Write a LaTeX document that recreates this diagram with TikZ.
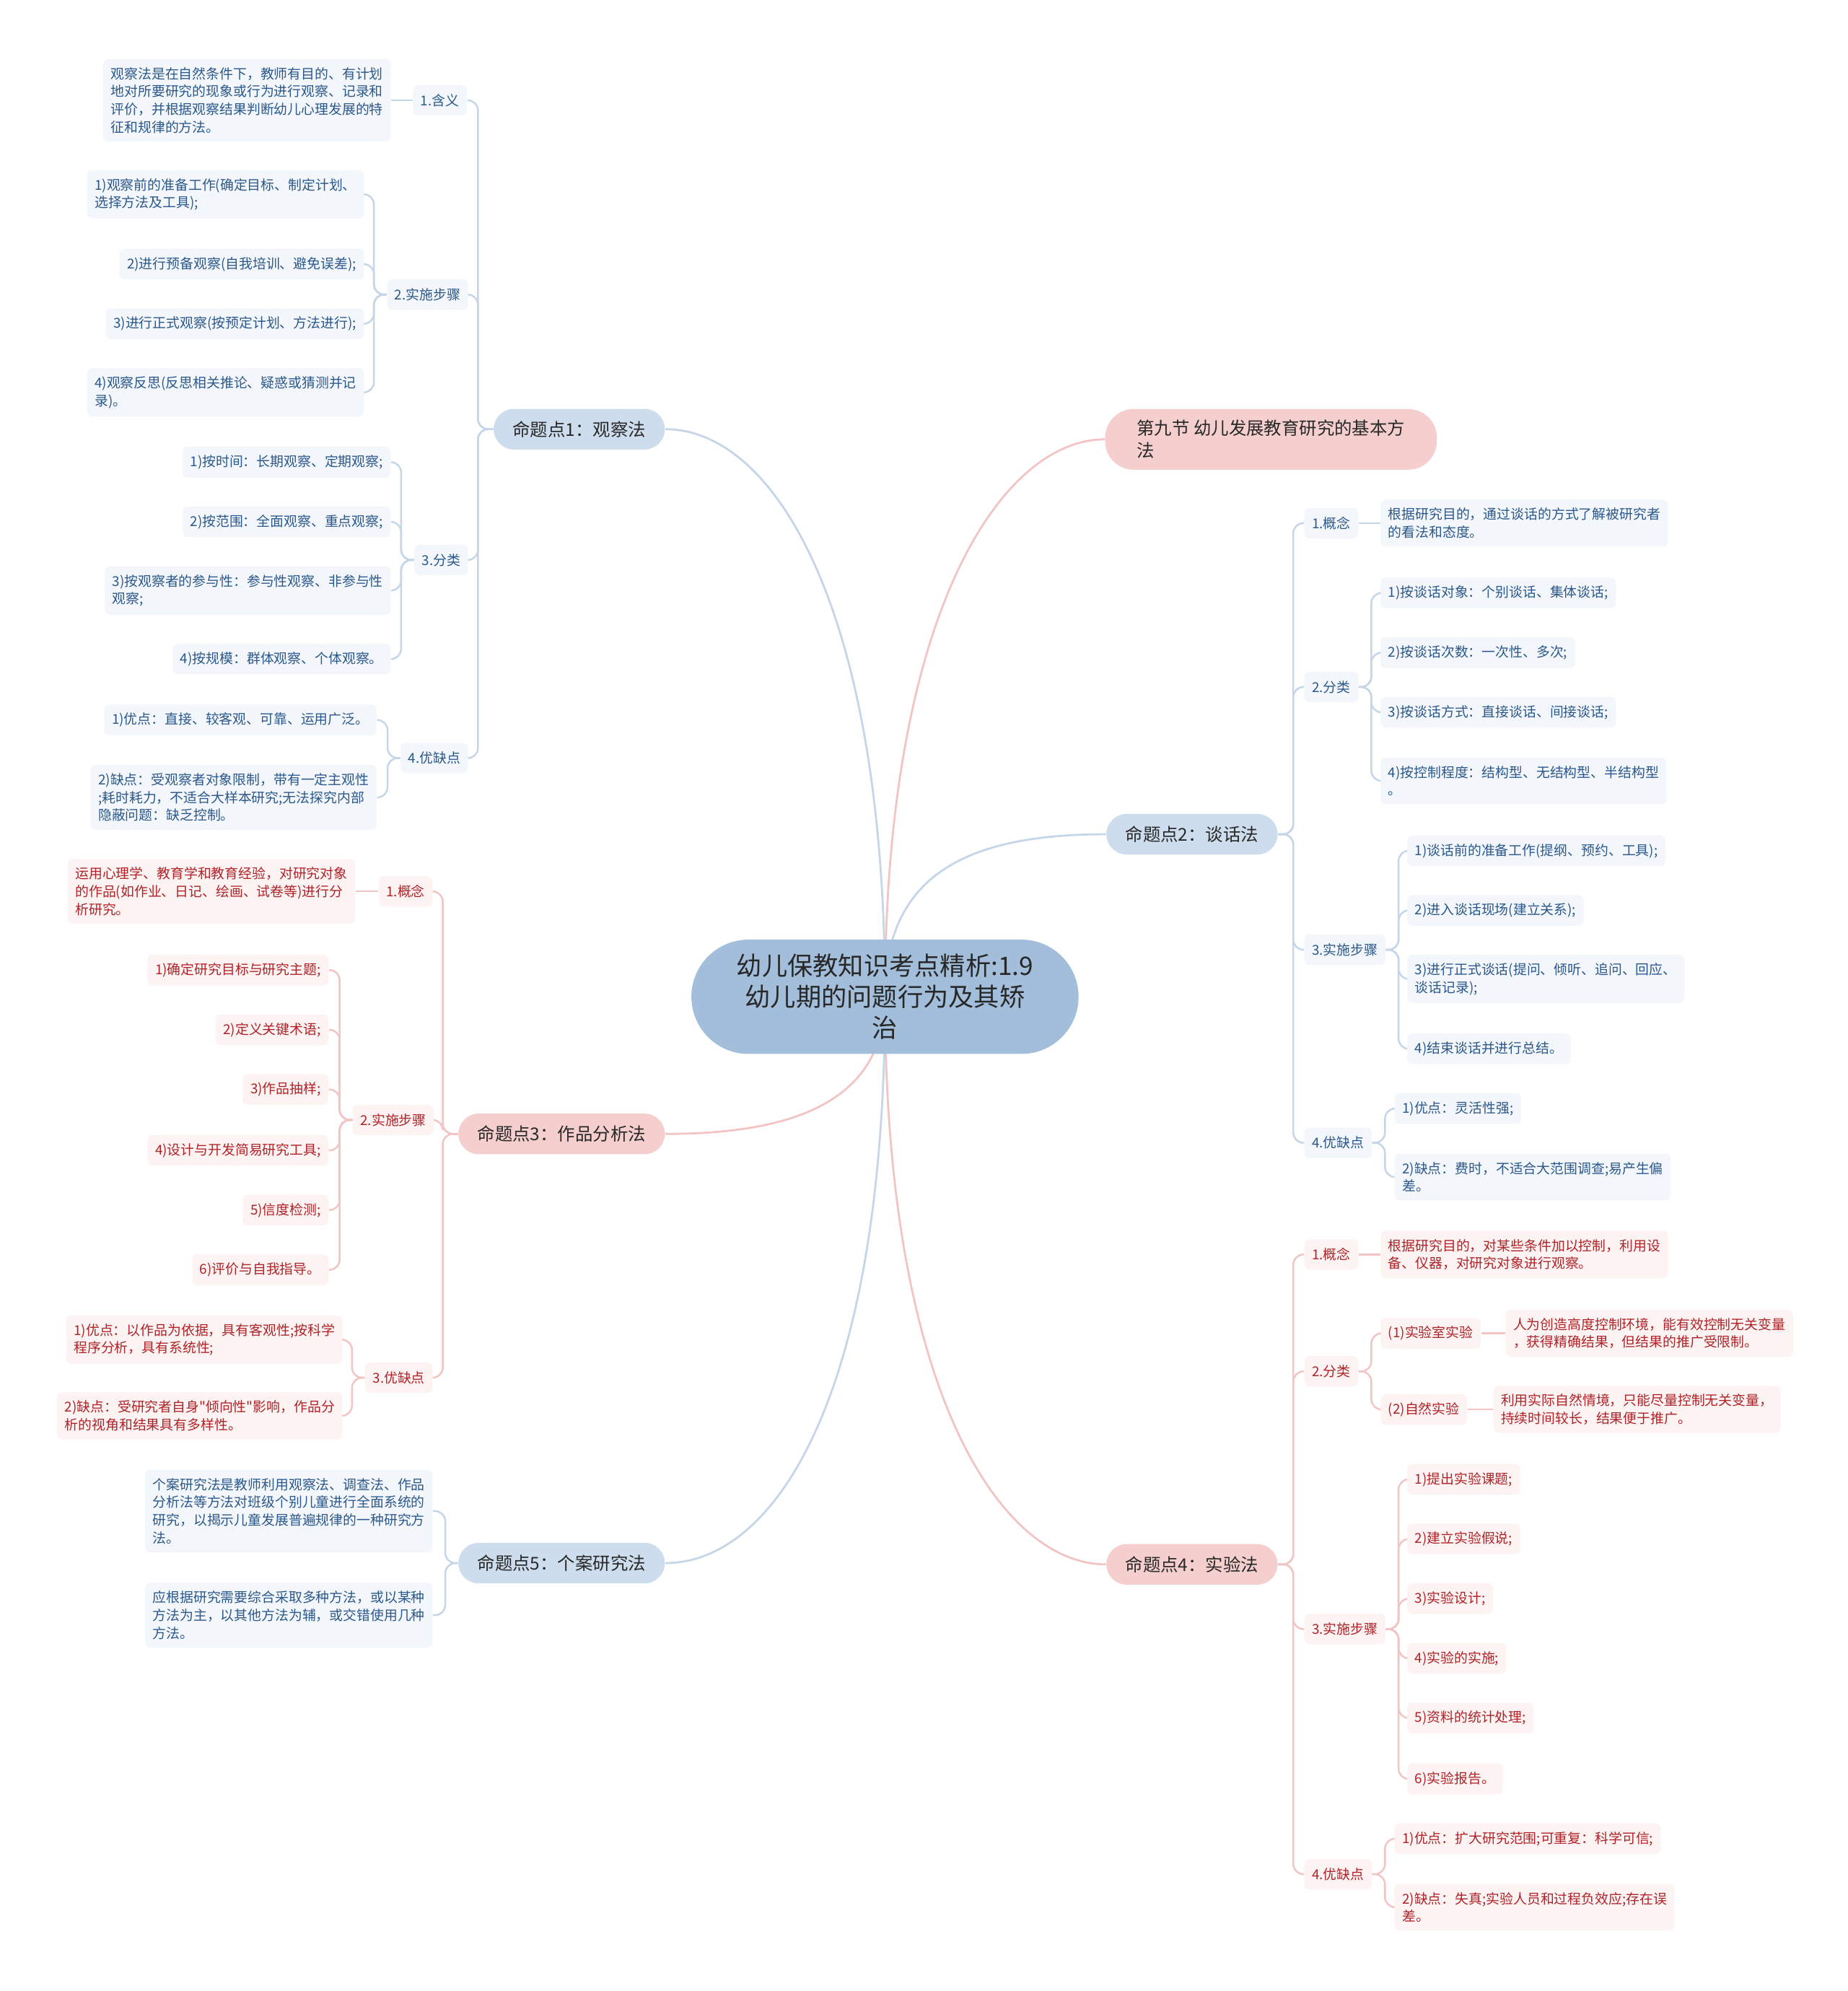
\documentclass[tikz,border=0pt]{standalone}
\usepackage{fontspec}
\setmainfont{Noto Sans CJK SC}[Ligatures=TeXOff]
\usepackage{xcolor}
\usetikzlibrary{positioning,backgrounds}

\definecolor{rootfill}{RGB}{162,190,219}
\definecolor{darktxt}{RGB}{40,40,40}
\definecolor{topicblue}{RGB}{205,221,237}
\definecolor{topicred}{RGB}{245,206,206}
\definecolor{txtblue}{RGB}{43,88,140}
\definecolor{txtred}{RGB}{175,35,40}
\definecolor{fillblue}{RGB}{243,247,251}
\definecolor{fillred}{RGB}{253,243,243}
\definecolor{lineblue}{RGB}{197,214,232}
\definecolor{linered}{RGB}{242,196,196}

\newcommand\leaffont{\fontsize{6.1pt}{7.97pt}\selectfont}
\newcommand\topicfont{\fontsize{7.9pt}{10.2pt}\selectfont}
\newcommand\rootfont{\fontsize{11.4pt}{13.9pt}\selectfont}

\begin{document}
\begin{tikzpicture}[x=0.02cm, y=-0.02cm,
  rootbox/.style={fill=rootfill, text=darktxt, font=\rootfont, align=center, rounded corners=0.9cm, minimum width=6.1cm, minimum height=1.8cm},
  topicb/.style={fill=topicblue, text=darktxt, font=\topicfont, rounded corners=0.32cm, minimum height=0.64cm, inner xsep=0.3cm},
  topicr/.style={topicb, fill=topicred},
  subb/.style={fill=fillblue, text=txtblue, font=\leaffont, rounded corners=0.08cm, minimum height=0.48cm, inner xsep=0.12cm},
  subr/.style={subb, fill=fillred, text=txtred},
  leafb/.style={subb, align=left, inner ysep=0.13cm},
  leafr/.style={subr, align=left, inner ysep=0.13cm},
  lineb/.style={draw=lineblue, line width=0.8pt, rounded corners=0.16cm},
  liner/.style={lineb, draw=linered}]

\useasboundingbox (0,0) rectangle (1455,1568);

\node[rootbox] (root) at (697,785) {幼儿保教知识考点精析:1.9\\幼儿期的问题行为及其矫\\治};

\node[topicr, align=left, inner xsep=0.5cm, inner ysep=0.17cm, rounded corners=0.45cm, anchor=west] (t9) at (870,346) {第九节 幼儿发展教育研究的基本方\\法};
\node[topicb, anchor=east] (t1) at (524,338) {命题点1：观察法};
\node[topicb, anchor=west] (t2) at (871,657) {命题点2：谈话法};
\node[topicr, anchor=east] (t3) at (524,893) {命题点3：作品分析法};
\node[topicr, anchor=west] (t4) at (871,1232) {命题点4：实验法};
\node[topicb, anchor=east] (t5) at (524,1231) {命题点5：个案研究法};

% 命题点1
\node[subb, anchor=east] (t1a) at (368,79) {1.含义};
\node[subb, anchor=east] (t1b) at (369,232) {2.实施步骤};
\node[subb, anchor=east] (t1c) at (369,441) {3.分类};
\node[subb, anchor=east] (t1d) at (369,597) {4.优缺点};

\node[leafb, anchor=east] (t1a1) at (308,79) {观察法是在自然条件下，教师有目的、有计划\\地对所要研究的现象或行为进行观察、记录和\\评价，并根据观察结果判断幼儿心理发展的特\\征和规律的方法。};
\node[leafb, anchor=east] (t1b1) at (287,153) {1)观察前的准备工作(确定目标、制定计划、\\选择方法及工具);};
\node[leafb, anchor=east] (t1b2) at (287,208) {2)进行预备观察(自我培训、避免误差);};
\node[leafb, anchor=east] (t1b3) at (287,255) {3)进行正式观察(按预定计划、方法进行);};
\node[leafb, anchor=east] (t1b4) at (287,309) {4)观察反思(反思相关推论、疑惑或猜测并记\\录)。};
\node[leafb, anchor=east] (t1c1) at (308,364) {1)按时间：长期观察、定期观察;};
\node[leafb, anchor=east] (t1c2) at (308,411) {2)按范围：全面观察、重点观察;};
\node[leafb, anchor=east] (t1c3) at (308,465) {3)按观察者的参与性：参与性观察、非参与性\\观察;};
\node[leafb, anchor=east] (t1c4) at (308,519) {4)按规模：群体观察、个体观察。};
\node[leafb, anchor=east] (t1d1) at (297,567) {1)优点：直接、较客观、可靠、运用广泛。};
\node[leafb, anchor=east] (t1d2) at (297,628) {2)缺点：受观察者对象限制，带有一定主观性\\;耗时耗力，不适合大样本研究;无法探究内部\\隐蔽问题：缺乏控制。};

% 命题点3
\node[subr, anchor=east] (t3a) at (341,702) {1.概念};
\node[subr, anchor=east] (t3b) at (342,882) {2.实施步骤};
\node[subr, anchor=east] (t3c) at (341,1085) {3.优缺点};

\node[leafr, anchor=east] (t3a1) at (280,702) {运用心理学、教育学和教育经验，对研究对象\\的作品(如作业、日记、绘画、试卷等)进行分\\析研究。};
\node[leafr, anchor=east] (t3b1) at (259,764) {1)确定研究目标与研究主题;};
\node[leafr, anchor=east] (t3b2) at (259,811) {2)定义关键术语;};
\node[leafr, anchor=east] (t3b3) at (259,858) {3)作品抽样;};
\node[leafr, anchor=east] (t3b4) at (259,906) {4)设计与开发简易研究工具;};
\node[leafr, anchor=east] (t3b5) at (259,953) {5)信度检测;};
\node[leafr, anchor=east] (t3b6) at (259,1000) {6)评价与自我指导。};
\node[leafr, anchor=east] (t3c1) at (270,1055) {1)优点：以作品为依据，具有客观性;按科学\\程序分析，具有系统性;};
\node[leafr, anchor=east] (t3c2) at (270,1115) {2)缺点：受研究者自身"倾向性"影响，作品分\\析的视角和结果具有多样性。};

% 命题点5
\node[leafb, anchor=east] (t5a) at (341,1190) {个案研究法是教师利用观察法、调查法、作品\\分析法等方法对班级个别儿童进行全面系统的\\研究，以揭示儿童发展普遍规律的一种研究方\\法。};
\node[leafb, anchor=east] (t5b) at (341,1272) {应根据研究需要综合采取多种方法，或以某种\\方法为主，以其他方法为辅，或交错使用几种\\方法。};

% 命题点2
\node[subb, anchor=west] (t2a) at (1027,412) {1.概念};
\node[subb, anchor=west] (t2b) at (1027,541) {2.分类};
\node[subb, anchor=west] (t2c) at (1027,748) {3.实施步骤};
\node[subb, anchor=west] (t2d) at (1027,900) {4.优缺点};

\node[leafb, anchor=west] (t2a1) at (1087,412) {根据研究目的，通过谈话的方式了解被研究者\\的看法和态度。};
\node[leafb, anchor=west] (t2b1) at (1087,467) {1)按谈话对象：个别谈话、集体谈话;};
\node[leafb, anchor=west] (t2b2) at (1087,514) {2)按谈话次数：一次性、多次;};
\node[leafb, anchor=west] (t2b3) at (1087,561) {3)按谈话方式：直接谈话、间接谈话;};
\node[leafb, anchor=west] (t2b4) at (1087,615) {4)按控制程度：结构型、无结构型、半结构型\\。};
\node[leafb, anchor=west] (t2c1) at (1108,670) {1)谈话前的准备工作(提纲、预约、工具);};
\node[leafb, anchor=west] (t2c2) at (1108,717) {2)进入谈话现场(建立关系);};
\node[leafb, anchor=west] (t2c3) at (1108,771) {3)进行正式谈话(提问、倾听、追问、回应、\\谈话记录);};
\node[leafb, anchor=west] (t2c4) at (1108,826) {4)结束谈话并进行总结。};
\node[leafb, anchor=west] (t2d1) at (1098,873) {1)优点：灵活性强;};
\node[leafb, anchor=west] (t2d2) at (1098,927) {2)缺点：费时，不适合大范围调查;易产生偏\\差。};

% 命题点4
\node[subr, anchor=west] (t4a) at (1027,988) {1.概念};
\node[subr, anchor=west] (t4b) at (1027,1080) {2.分类};
\node[subr, anchor=west] (t4c) at (1027,1283) {3.实施步骤};
\node[subr, anchor=west] (t4d) at (1027,1476) {4.优缺点};

\node[leafr, anchor=west] (t4a1) at (1087,988) {根据研究目的，对某些条件加以控制，利用设\\备、仪器，对研究对象进行观察。};
\node[subr, anchor=west] (t4b1) at (1087,1050) {(1)实验室实验};
\node[subr, anchor=west] (t4b2) at (1087,1110) {(2)自然实验};
\node[leafr, right=0.38cm of t4b1] (t4b1x) {人为创造高度控制环境，能有效控制无关变量\\，获得精确结果，但结果的推广受限制。};
\node[leafr, right=0.4cm of t4b2] (t4b2x) {利用实际自然情境，只能尽量控制无关变量，\\持续时间较长，结果便于推广。};
\node[leafr, anchor=west] (t4c1) at (1108,1165) {1)提出实验课题;};
\node[leafr, anchor=west] (t4c2) at (1108,1212) {2)建立实验假说;};
\node[leafr, anchor=west] (t4c3) at (1108,1259) {3)实验设计;};
\node[leafr, anchor=west] (t4c4) at (1108,1306) {4)实验的实施;};
\node[leafr, anchor=west] (t4c5) at (1108,1353) {5)资料的统计处理;};
\node[leafr, anchor=west] (t4c6) at (1108,1401) {6)实验报告。};
\node[leafr, anchor=west] (t4d1) at (1098,1448) {1)优点：扩大研究范围;可重复：科学可信;};
\node[leafr, anchor=west] (t4d2) at (1098,1502) {2)缺点：失真;实验人员和过程负效应;存在误\\差。};

\begin{scope}[on background layer]
\fill[white] (0,0) rectangle (1455,1568);

\draw[lineb, line width=0.9pt] (root.center) .. controls (697,480) and (610,338) .. (t1.east);
\draw[liner, line width=0.9pt] (root.center) .. controls (697,480) and (790,346) .. (t9.west);
\draw[lineb, line width=0.9pt] (root.center) .. controls (697,690) and (760,657) .. (t2.west);
\draw[liner, line width=0.9pt] (root.center) .. controls (697,870) and (620,893) .. (t3.east);
\draw[liner, line width=0.9pt] (root.center) .. controls (697,1100) and (790,1232) .. (t4.west);
\draw[lineb, line width=0.9pt] (root.center) .. controls (697,1100) and (610,1231) .. (t5.east);

\foreach \c in {t1a,t1b,t1c,t1d} \draw[lineb] (t1.west) -- ++(-12,0) |- (\c.east);
\draw[lineb] (t1a.west) -- (t1a1.east);
\foreach \c in {t1b1,t1b2,t1b3,t1b4} \draw[lineb] (t1b.west) -- ++(-10,0) |- (\c.east);
\foreach \c in {t1c1,t1c2,t1c3,t1c4} \draw[lineb] (t1c.west) -- ++(-10,0) |- (\c.east);
\foreach \c in {t1d1,t1d2} \draw[lineb] (t1d.west) -- ++(-10,0) |- (\c.east);

\foreach \c in {t3a,t3b,t3c} \draw[liner] (t3.west) -- ++(-12,0) |- (\c.east);
\draw[liner] (t3a.west) -- (t3a1.east);
\foreach \c in {t3b1,t3b2,t3b3,t3b4,t3b5,t3b6} \draw[liner] (t3b.west) -- ++(-10,0) |- (\c.east);
\foreach \c in {t3c1,t3c2} \draw[liner] (t3c.west) -- ++(-10,0) |- (\c.east);

\foreach \c in {t5a,t5b} \draw[lineb] (t5.west) -- ++(-10,0) |- (\c.east);

\foreach \c in {t2a,t2b,t2c,t2d} \draw[lineb] (t2.east) -- ++(12,0) |- (\c.west);
\draw[lineb] (t2a.east) -- (t2a1.west);
\foreach \c in {t2b1,t2b2,t2b3,t2b4} \draw[lineb] (t2b.east) -- ++(10,0) |- (\c.west);
\foreach \c in {t2c1,t2c2,t2c3,t2c4} \draw[lineb] (t2c.east) -- ++(10,0) |- (\c.west);
\foreach \c in {t2d1,t2d2} \draw[lineb] (t2d.east) -- ++(10,0) |- (\c.west);

\foreach \c in {t4a,t4b,t4c,t4d} \draw[liner] (t4.east) -- ++(12,0) |- (\c.west);
\draw[liner] (t4a.east) -- (t4a1.west);
\foreach \c in {t4b1,t4b2} \draw[liner] (t4b.east) -- ++(10,0) |- (\c.west);
\draw[liner] (t4b1.east) -- (t4b1x.west);
\draw[liner] (t4b2.east) -- (t4b2x.west);
\foreach \c in {t4c1,t4c2,t4c3,t4c4,t4c5,t4c6} \draw[liner] (t4c.east) -- ++(10,0) |- (\c.west);
\foreach \c in {t4d1,t4d2} \draw[liner] (t4d.east) -- ++(10,0) |- (\c.west);
\end{scope}

\end{tikzpicture}
\end{document}
